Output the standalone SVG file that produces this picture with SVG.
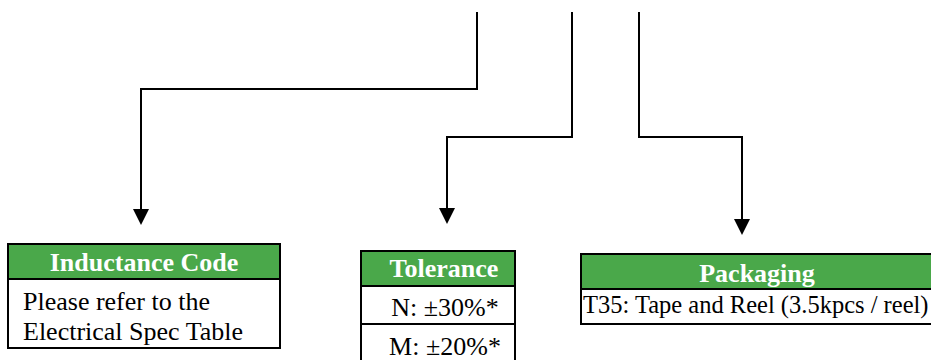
<svg xmlns="http://www.w3.org/2000/svg" width="931" height="360" viewBox="0 0 931 360">
<defs>
<style>
.box{fill:#fff;stroke:#000;stroke-width:2}
.hdr{fill:#4aa84a;stroke:#000;stroke-width:2}
.ht{font-family:"Liberation Serif",serif;font-weight:bold;font-size:26px;fill:#fff;text-anchor:middle}
.bt{font-family:"Liberation Serif",serif;font-size:26px;fill:#000}
.ln{fill:none;stroke:#000;stroke-width:2}
</style>
</defs>
<g id="connectors">
<path class="ln" d="M477,12 V89 H141 V209"/>
<polygon points="133,209 149,209 141,225" fill="#000"/>
<path class="ln" d="M572,12 V137 H447 V208"/>
<polygon points="439,208 455,208 447,224" fill="#000"/>
<path class="ln" d="M639,12 V137 H742 V219"/>
<polygon points="734,219 750,219 742,235" fill="#000"/>
</g>
<g id="inductance">
<rect class="box" x="8" y="244" width="272" height="104"/>
<rect class="hdr" x="8" y="244" width="272" height="35"/>
<text class="ht" x="144" y="271">Inductance Code</text>
<text class="bt" x="23" y="310">Please refer to the</text>
<text class="bt" x="23" y="340">Electrical Spec Table</text>
</g>
<g id="tolerance">
<rect class="box" x="361" y="251" width="154" height="115"/>
<rect class="hdr" x="361" y="251" width="154" height="35"/>
<line class="ln" x1="361" y1="324" x2="515" y2="324"/>
<text class="ht" x="444" y="277">Tolerance</text>
<text class="bt" x="445" y="316" text-anchor="middle">N: ±30%*</text>
<text class="bt" x="445" y="355" text-anchor="middle">M: ±20%*</text>
</g>
<g id="packaging">
<rect class="box" x="581" y="254" width="360" height="70"/>
<rect class="hdr" x="581" y="254" width="360" height="35"/>
<text class="ht" x="757" y="282">Packaging</text>
<text class="bt" x="583" y="313" style="font-size:24.5px">T35: Tape and Reel (3.5kpcs / reel)</text>
</g>
</svg>
